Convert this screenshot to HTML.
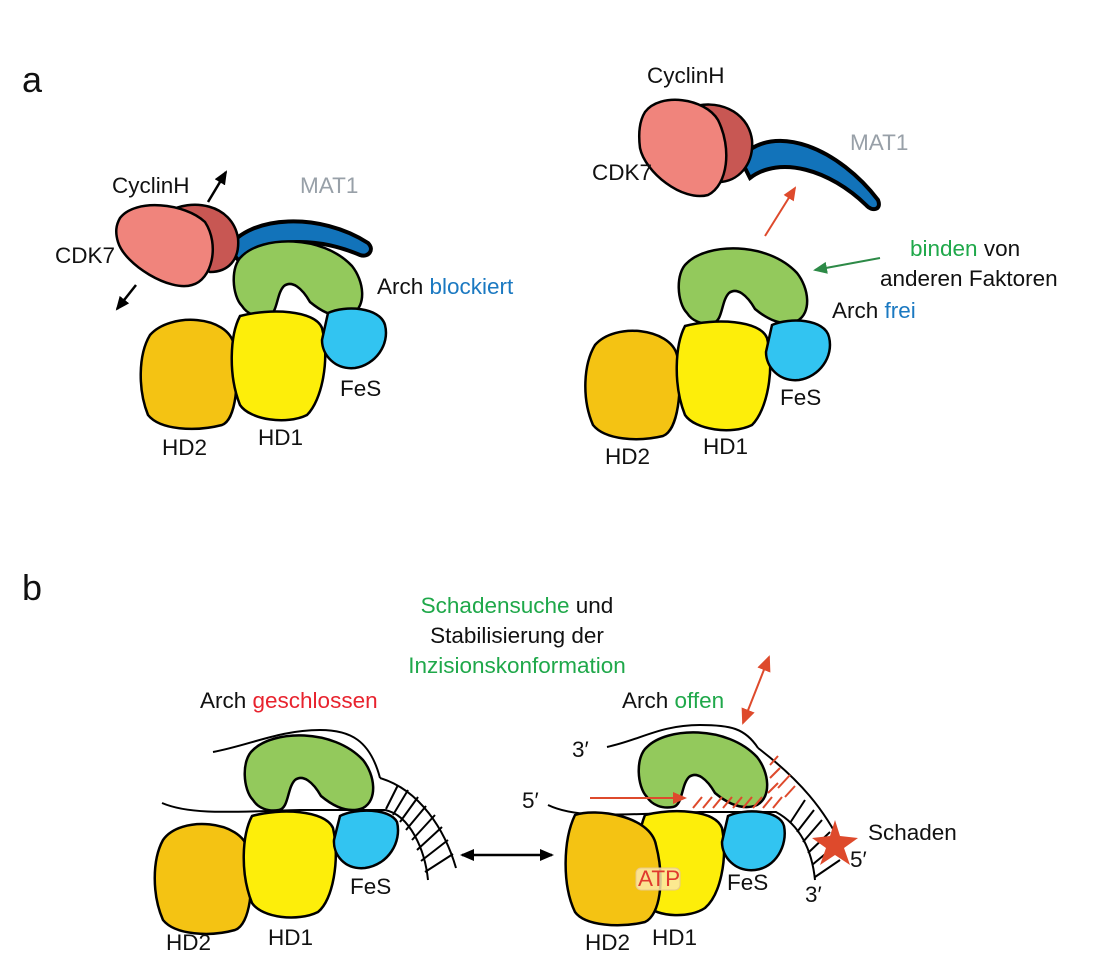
<!DOCTYPE html>
<html><head><meta charset="utf-8"><style>
body{margin:0;background:#fff}
svg text{font-family:"Liberation Sans",sans-serif;font-size:22.5px;fill:#111}
</style></head><body>
<svg width="1111" height="960" viewBox="0 0 1111 960" xmlns="http://www.w3.org/2000/svg">
<defs>
<path id="arch" d="M10,70 C0,60 -2,30 10,20 C30,0 90,-2 120,30 C132,45 135,70 120,78 C105,84 90,76 78,66 C70,52 60,44 52,50 C44,58 46,78 36,80 C25,82 15,78 10,70 Z" fill="#93c95c" stroke="#000" stroke-width="2.5"/>
<marker id="ab" markerWidth="14" markerHeight="12" refX="12" refY="6" orient="auto" markerUnits="userSpaceOnUse"><path d="M0,0 L14,6 L0,12 Z" fill="#000"/></marker>
<marker id="ar" markerWidth="14" markerHeight="12" refX="12" refY="6" orient="auto" markerUnits="userSpaceOnUse"><path d="M0,0 L14,6 L0,12 Z" fill="#de4a2c"/></marker>
<marker id="ar2" markerWidth="16" markerHeight="14" refX="14" refY="7" orient="auto-start-reverse" markerUnits="userSpaceOnUse"><path d="M0,0 L16,7 L0,14 Z" fill="#de4a2c"/></marker>
<marker id="ag" markerWidth="14" markerHeight="12" refX="12" refY="6" orient="auto" markerUnits="userSpaceOnUse"><path d="M0,0 L14,6 L0,12 Z" fill="#2d8a47"/></marker>
<marker id="abl" markerWidth="14" markerHeight="12" refX="12" refY="6" orient="auto-start-reverse" markerUnits="userSpaceOnUse"><path d="M0,0 L14,6 L0,12 Z" fill="#000"/></marker>
</defs>

<text x="22" y="92" style="font-size:36px">a</text>
<text x="22" y="600" style="font-size:36px">b</text>

<!-- TOP LEFT -->
<path d="M228,248 C250,215 320,212 368,243 C375,250 368,258 360,255 C320,238 270,235 240,262 Z" fill="#1273ba" stroke="#000" stroke-width="4"/>
<path d="M168,212 C190,198 232,203 238,238 C240,260 228,272 210,272 L190,262 Z" fill="#c85753" stroke="#000" stroke-width="2.5"/>
<path d="M120,218 C135,198 185,203 205,222 C220,245 212,280 192,285 C170,292 125,265 118,242 C115,232 116,225 120,218 Z" fill="#f0847c" stroke="#000" stroke-width="2.5"/>
<use href="#arch" transform="translate(232,236)"/>
<path d="M150,335 C170,312 228,315 234,345 C240,380 236,420 222,425 C195,432 160,430 148,415 C138,390 138,355 150,335 Z" fill="#f4c313" stroke="#000" stroke-width="2.5"/>
<path d="M240,316 C270,308 315,310 322,328 C330,360 322,400 307,415 C287,425 250,420 240,405 C228,375 230,335 240,316 Z" fill="#fdee0a" stroke="#000" stroke-width="2.5"/>
<path d="M328,313 C345,305 380,307 385,325 C390,345 375,365 355,368 C335,370 322,355 322,340 Z" fill="#32c4f1" stroke="#000" stroke-width="2.5"/>
<line x1="208" y1="202" x2="226" y2="172" stroke="#000" stroke-width="2.5" marker-end="url(#ab)"/>
<line x1="136" y1="285" x2="117" y2="309" stroke="#000" stroke-width="2.5" marker-end="url(#ab)"/>
<text x="112" y="193">CyclinH</text>
<text x="55" y="263">CDK7</text>
<text x="300" y="193" style="fill:#98a0a8">MAT1</text>
<text x="377" y="294">Arch <tspan style="fill:#1b79c1">blockiert</tspan></text>
<text x="340" y="396">FeS</text>
<text x="162" y="455">HD2</text>
<text x="258" y="445">HD1</text>

<!-- TOP RIGHT -->
<path d="M740,158 C775,120 840,150 878,200 C882,210 872,212 866,205 C830,170 780,155 750,178 Z" fill="#1273ba" stroke="#000" stroke-width="4"/>
<path d="M690,108 C715,98 748,110 752,140 C754,165 738,182 718,182 L700,172 Z" fill="#c85753" stroke="#000" stroke-width="2.5"/>
<path d="M645,112 C660,92 705,98 718,120 C732,148 728,185 708,195 C682,202 645,172 640,148 C638,132 640,120 645,112 Z" fill="#f0847c" stroke="#000" stroke-width="2.5"/>
<line x1="765" y1="236" x2="795" y2="188" stroke="#de4a2c" stroke-width="2" marker-end="url(#ar)"/>
<use href="#arch" transform="translate(677,243)"/>
<path d="M595,345 C615,322 670,328 677,355 C683,390 678,430 663,436 C638,442 605,440 593,425 C582,400 583,365 595,345 Z" fill="#f4c313" stroke="#000" stroke-width="2.5"/>
<path d="M685,326 C715,318 760,320 767,338 C775,370 767,410 752,425 C732,435 695,430 685,415 C673,385 675,345 685,326 Z" fill="#fdee0a" stroke="#000" stroke-width="2.5"/>
<path d="M772,325 C790,317 825,319 829,337 C834,357 819,377 799,380 C779,382 766,367 766,352 Z" fill="#32c4f1" stroke="#000" stroke-width="2.5"/>
<line x1="880" y1="258" x2="815" y2="270" stroke="#2d8a47" stroke-width="2" marker-end="url(#ag)"/>
<text x="647" y="83">CyclinH</text>
<text x="592" y="180">CDK7</text>
<text x="850" y="150" style="fill:#98a0a8">MAT1</text>
<text x="910" y="256"><tspan style="fill:#1fa84a">binden</tspan> von</text>
<text x="880" y="286">anderen Faktoren</text>
<text x="832" y="318">Arch <tspan style="fill:#1b79c1">frei</tspan></text>
<text x="780" y="405">FeS</text>
<text x="605" y="464">HD2</text>
<text x="703" y="454">HD1</text>

<!-- BOTTOM TEXT -->
<g text-anchor="middle">
<text x="517" y="613"><tspan style="fill:#1fa84a">Schadensuche</tspan> und</text>
<text x="517" y="643">Stabilisierung der</text>
<text x="517" y="673" style="fill:#1fa84a">Inzisionskonformation</text>
</g>
<text x="200" y="708">Arch <tspan style="fill:#e8232e">geschlossen</tspan></text>
<text x="622" y="708">Arch <tspan style="fill:#1fa84a">offen</tspan></text>

<!-- BOTTOM LEFT -->
<path d="M213,752 C250,745 280,730 320,730 C350,730 370,740 380,778" fill="none" stroke="#000" stroke-width="2"/>
<use href="#arch" transform="translate(243,730)"/>
<path d="M162,803 C190,815 230,812 300,810 L385,810 C410,815 425,850 428,880" fill="none" stroke="#000" stroke-width="2"/>
<path d="M380,778 C420,790 445,830 456,868" fill="none" stroke="#000" stroke-width="2"/>
<g stroke="#000" stroke-width="2">
<line x1="386" y1="809" x2="398" y2="785"/><line x1="393" y1="815" x2="408" y2="790"/><line x1="400" y1="822" x2="418" y2="797"/>
<line x1="406" y1="830" x2="426" y2="806"/><line x1="412" y1="840" x2="435" y2="815"/><line x1="417" y1="850" x2="442" y2="827"/>
<line x1="421" y1="861" x2="448" y2="840"/><line x1="425" y1="872" x2="453" y2="854"/>
</g>
<path d="M163,840 C180,815 242,820 248,850 C255,885 250,925 235,930 C210,937 175,935 163,920 C152,895 152,860 163,840 Z" fill="#f4c313" stroke="#000" stroke-width="2.5"/>
<path d="M252,816 C280,808 325,810 333,828 C340,860 333,900 318,912 C298,922 262,918 252,903 C240,873 242,835 252,816 Z" fill="#fdee0a" stroke="#000" stroke-width="2.5"/>
<path d="M340,816 C355,808 390,808 397,822 C402,842 388,865 365,868 C345,870 333,855 334,840 Z" fill="#32c4f1" stroke="#000" stroke-width="2.5"/>
<text x="350" y="894">FeS</text>
<text x="166" y="950">HD2</text>
<text x="268" y="945">HD1</text>
<line x1="462" y1="855" x2="552" y2="855" stroke="#000" stroke-width="2.5" marker-start="url(#abl)" marker-end="url(#abl)"/>

<!-- BOTTOM RIGHT -->
<path d="M607,747 C640,740 660,725 700,725 C730,725 745,728 758,748" fill="none" stroke="#000" stroke-width="2"/>
<use href="#arch" transform="translate(637,727)"/>
<path d="M548,805 C575,818 610,815 700,812 L776,812 C800,825 812,850 815,880" fill="none" stroke="#000" stroke-width="2"/>
<path d="M758,748 C800,780 825,810 843,848" fill="none" stroke="#000" stroke-width="2"/>
<g stroke="#000" stroke-width="2">
<line x1="790" y1="823" x2="805" y2="800"/><line x1="797" y1="832" x2="814" y2="810"/><line x1="803" y1="842" x2="822" y2="820"/>
<line x1="808" y1="853" x2="830" y2="832"/><line x1="812" y1="865" x2="836" y2="845"/><line x1="815" y1="877" x2="840" y2="860"/>
</g>
<g stroke="#de4a2c" stroke-width="2">
<line x1="693" y1="808" x2="702" y2="797"/><line x1="703" y1="808" x2="712" y2="797"/><line x1="713" y1="808" x2="722" y2="797"/>
<line x1="723" y1="808" x2="732" y2="797"/><line x1="733" y1="808" x2="742" y2="797"/><line x1="743" y1="808" x2="752" y2="797"/>
<line x1="753" y1="808" x2="762" y2="797"/><line x1="763" y1="808" x2="772" y2="797"/><line x1="773" y1="808" x2="782" y2="797"/>
<line x1="768" y1="793" x2="778" y2="783"/><line x1="770" y1="778" x2="780" y2="768"/><line x1="770" y1="765" x2="778" y2="756"/>
<line x1="778" y1="788" x2="790" y2="775"/><line x1="785" y1="797" x2="795" y2="786"/>
</g>
<line x1="590" y1="798" x2="685" y2="798" stroke="#de4a2c" stroke-width="2" marker-end="url(#ar)"/>
<path d="M645,815 C675,808 715,810 722,828 C728,860 720,895 705,908 C690,918 660,918 645,905 C635,880 635,840 645,815 Z" fill="#fdee0a" stroke="#000" stroke-width="2.5"/>
<path d="M575,815 C595,808 650,815 656,845 C665,880 660,915 645,922 C620,928 585,926 575,912 C562,885 563,840 575,815 Z" fill="#f4c313" stroke="#000" stroke-width="2.5"/>
<path d="M728,816 C745,808 780,810 784,826 C788,846 775,868 755,870 C735,872 722,857 722,842 Z" fill="#32c4f1" stroke="#000" stroke-width="2.5"/>
<rect x="636" y="868" width="44" height="22" rx="5" fill="#fbe7a8" fill-opacity="0.85" stroke="#e8c98a"/>
<text x="638" y="886" style="fill:#e03a2e">ATP</text>
<path d="M835,820 L840,836 L858,838 L844,848 L850,865 L835,855 L820,865 L826,848 L812,838 L830,836 Z" fill="#de4a2c"/>
<line x1="743" y1="723" x2="769" y2="657" stroke="#de4a2c" stroke-width="2" marker-start="url(#ar2)" marker-end="url(#ar2)"/>
<text x="572" y="757">3′</text>
<text x="522" y="808">5′</text>
<text x="868" y="840">Schaden</text>
<text x="850" y="867">5′</text>
<text x="805" y="902">3′</text>
<text x="727" y="890">FeS</text>
<text x="585" y="950">HD2</text>
<text x="652" y="945">HD1</text>
</svg>
</body></html>
